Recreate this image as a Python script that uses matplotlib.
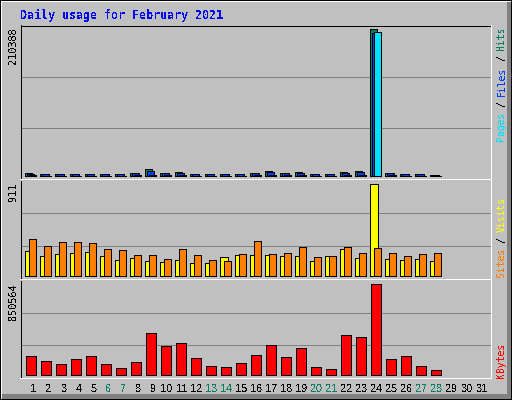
import matplotlib
matplotlib.use("Agg")
import matplotlib.pyplot as plt
from matplotlib.patches import Rectangle
import matplotlib.transforms as mtransforms

plt.rcParams["text.antialiased"] = False

# ---------------- data ----------------
title = "Daily usage for February 2021"
day_labels = [str(d) for d in range(1, 32)]
weekend_days = [6, 7, 13, 14, 20, 21, 27, 28]

hits = [4700, 3000, 3000, 3000, 3000, 3000, 3000, 4300, 10000, 4300, 5700, 3000, 3000, 3000,
        3000, 4300, 7200, 4300, 5700, 3000, 3000, 5700, 7200, 210388, 4700, 3000, 3000, 1900]
files = [2900, 2600, 2600, 2600, 2600, 2600, 2600, 4000, 7200, 4000, 4700, 2600, 2600, 2600,
         2600, 4000, 5300, 4000, 4700, 2600, 2600, 4700, 5700, 205000, 4300, 2600, 2600, 1800]
pages = [800, 700, 700, 700, 700, 700, 600, 800, 1000, 800, 900, 700, 700, 600,
         700, 800, 900, 800, 900, 600, 600, 900, 900, 206000, 800, 700, 700, 700]
visits = [248, 195, 215, 224, 234, 195, 155, 175, 145, 135, 155, 125, 125, 185,
          205, 205, 205, 195, 195, 145, 195, 264, 175, 911, 165, 155, 165, 145]
sites = [363, 294, 333, 333, 323, 264, 254, 205, 205, 165, 264, 205, 155, 145,
         215, 343, 215, 224, 284, 185, 195, 284, 224, 274, 224, 195, 215, 224]
kbytes = [174500, 127800, 99700, 146500, 174500, 99700, 62300, 118400, 389500, 268000,
          296000, 155800, 81000, 71700, 109000, 183800, 277300, 165200, 249300, 71700,
          53000, 370800, 352100, 850564, 146500, 174500, 81000, 43600]

# ---------------- style ----------------
BG = "#C0C0C0"
GRID = "#808080"
C_HITS, C_FILES, C_PAGES = "#00805C", "#0040FF", "#00E0FF"
C_VISITS, C_SITES, C_KB = "#FFFF00", "#FF8000", "#FF0000"
W, H = 512, 400
PX = 72.0 / 100.0  # one pixel in points

fig = plt.figure(figsize=(W / 100, H / 100), dpi=100, facecolor=BG)


def prect(x0, y0, w, h, color):
    fig.add_artist(Rectangle((x0 / W, 1 - (y0 + h) / H), w / W, h / H,
                             transform=fig.transFigure, facecolor=color,
                             edgecolor="none", antialiased=False, zorder=5))


def add_axes_px(left, top, right, bottom):
    return fig.add_axes([left / W, 1 - bottom / H, (right - left) / W, (bottom - top) / H])


# outer frame
prect(0, 0, W, 1, "black")
prect(0, H - 1, W, 1, "black")
prect(0, 0, 1, H, "black")
prect(W - 1, 0, 1, H, "black")
prect(1, 1, W - 2, 1, "white")
prect(1, 1, 1, H - 2, "white")
prect(507, 2, 4, H - 3, "#808080")
prect(2, 394, W - 3, 5, "#808080")

# panels (pixel geometry)
L, R = 20.5, 490.5
panels = [(25.5, 178.5), (180.5, 278.5), (280.5, 377.5)]
axs = [add_axes_px(L, t, R, b) for t, b in panels]

xlo = 1 + (L - 31.5) / 15.0
xhi = 1 + (R - 31.5) / 15.0
days = list(range(1, len(hits) + 1))


def px2d(p):
    return p / 15.0


for i, ax in enumerate(axs):
    ax.set_facecolor(BG)
    ax.set_xlim(xlo, xhi)
    ax.set_xticks([])
    ax.set_yticks([])
    for s in ["left", "right", "bottom", "top"]:
        ax.spines[s].set_color("black")
        ax.spines[s].set_linewidth(PX)
        ax.spines[s].set_antialiased(False)
    if i > 0:
        ax.spines["top"].set_visible(False)
    for f in (1 / 3, 2 / 3):
        ax.plot([0, 1], [f, f], transform=ax.transAxes, color=GRID, lw=PX,
                antialiased=False, zorder=1, solid_capstyle="butt")


def set_scale(ax, top, bottom, vmax, max_top_px):
    base = bottom - 2
    s = vmax / (base - max_top_px)
    ax.set_ylim(-2 * s, (base - top) * s)
    return s


scales = [set_scale(axs[0], *panels[0], max(hits), 29.5),
          set_scale(axs[1], *panels[1], max(visits), 184.5),
          set_scale(axs[2], *panels[2], max(kbytes), 284.5)]


def gd_bars(ax, s, values, left_px, width_px, color, z):
    """black outer box plus coloured inner box, 1px outline like gd"""
    xs = [d + px2d(left_px - 0.5) for d in days]
    ax.bar(xs, [v + s for v in values], width=px2d(width_px + 1), bottom=-0.5 * s,
           align="edge", color="black", edgecolor="none", antialiased=False, zorder=z)
    xi = [d + px2d(left_px + 0.5) for d in days]
    inner = [max(v - s, 0) for v in values]
    ax.bar(xi, inner, width=px2d(width_px - 1), bottom=0.5 * s, align="edge",
           color=color, edgecolor="none", antialiased=False, zorder=z + 0.5)


gd_bars(axs[0], scales[0], hits, -6, 7, C_HITS, 3)
gd_bars(axs[0], scales[0], files, -4, 7, C_FILES, 4)
gd_bars(axs[0], scales[0], pages, -2, 7, C_PAGES, 5)
gd_bars(axs[1], scales[1], visits, -6, 8, C_VISITS, 3)
gd_bars(axs[1], scales[1], sites, -2, 7, C_SITES, 4)
gd_bars(axs[2], scales[2], kbytes, -5, 10, C_KB, 3)

# white bevel lines
for row in (179, 279, 378):
    prect(20, row, 472, 1, "white")
prect(491, 25, 1, 354, "white")

MONO = "DejaVu Sans Mono"

fig.text(20 / W, 1 - 19 / H, title, family=MONO, weight="bold", size=8.4,
         color="#0000FF", ha="left", va="baseline")

for txt, top in ((str(max(hits)), 27), (str(max(visits)), 183), (str(max(kbytes)), 283)):
    fig.text(13.5 / W, 1 - top / H, txt, family=MONO, size=7.4, rotation=90,
             ha="center", va="top", color="black")

LEG_SIZE = 7.0
pitch = 0.602 * LEG_SIZE * 100 / 72 * 0.97


def legend_up(segments, bottom_px):
    i = 0
    for txt, col in segments:
        n = len(txt)
        yc = bottom_px - (i + n / 2) * pitch
        if txt.strip():
            fig.text(501.5 / W, 1 - yc / H, txt, family=MONO, size=LEG_SIZE, rotation=90,
                     ha="center", va="center", color=col)
        i += n


legend_up([("Pages", C_PAGES), (" ", "k"), ("/", "black"), (" ", "k"), ("Files", C_FILES),
           (" ", "k"), ("/", "black"), (" ", "k"), ("Hits", C_HITS)], 27 + 20 * pitch)
legend_up([("Sites", C_SITES), (" ", "k"), ("/", "black"), (" ", "k"), ("Visits", C_VISITS)], 277)
legend_up([("KBytes", C_KB)], 377)

trans = mtransforms.blended_transform_factory(axs[2].transData, fig.transFigure)
for k, lab in enumerate(day_labels):
    d = k + 1
    off = px2d(2) if len(lab) == 1 else 0.0
    col = C_HITS if d in weekend_days else "black"
    axs[2].text(d + off, 1 - 389 / H, lab, transform=trans, family="Liberation Sans",
                size=7.8, ha="center", va="center", color=col, clip_on=False)

fig.savefig("out.png", dpi=100, facecolor=BG)
